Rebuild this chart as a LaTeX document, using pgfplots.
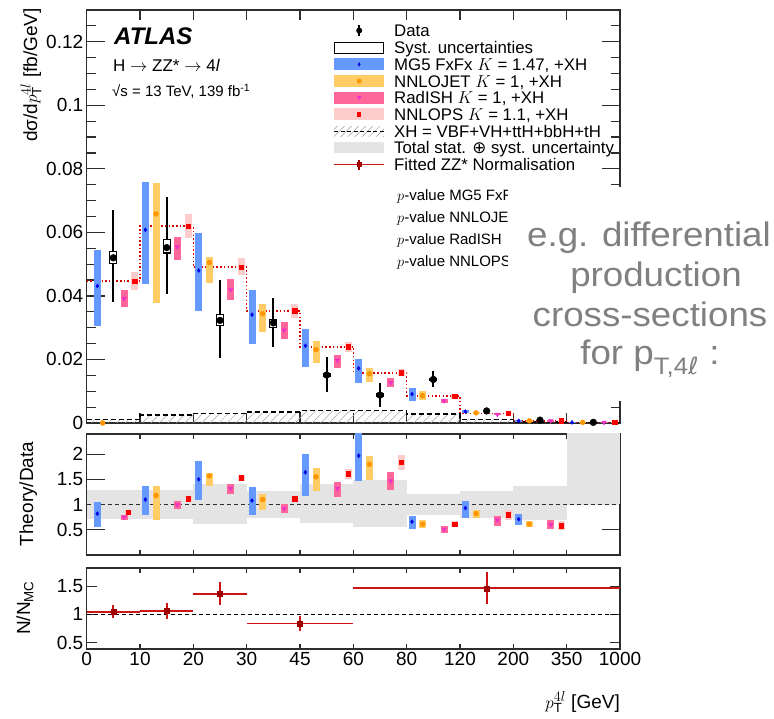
\documentclass[border=0pt]{standalone}
\usepackage{pgfplots}
\usepackage{pgfplotstable}
\pgfplotsset{compat=1.18}
\usetikzlibrary{patterns,patterns.meta}
\usepackage{fontspec}
\setmainfont{Liberation Sans}
\newfontfamily\dejavu{DejaVu Sans}
\definecolor{mgband}{RGB}{102,153,255}
\definecolor{mgmark}{RGB}{0,0,230}
\definecolor{njband}{RGB}{255,204,102}
\definecolor{njmark}{RGB}{255,150,0}
\definecolor{rdband}{RGB}{255,102,153}
\definecolor{rdmark}{RGB}{240,50,200}
\definecolor{nlband}{RGB}{255,204,204}
\definecolor{nlmark}{RGB}{255,0,0}
\definecolor{fitline}{RGB}{204,20,20}
\definecolor{fitmark}{RGB}{160,0,0}
\definecolor{bandgrey}{RGB}{228,228,228}
\definecolor{axcol}{RGB}{45,45,45}
\definecolor{txtgrey}{RGB}{128,128,128}

\pgfplotstableread{
x y ep em
0.2 0.0431 0.0112 0.0126
1.1 0.0608 0.0150 0.0169
2.1 0.0480 0.0118 0.0128
3.1 0.0341 0.0077 0.0091
4.1 0.0243 0.0054 0.0066
5.1 0.0172 0.0031 0.0045
6.1 0.0091 0.0018 0.0021
7.1 0.0036 0.0006 0.0006
8.1 0.0007 0.0002 0.0002
9.1 0.0002 0.0001 0.0001
}\mgmain
\pgfplotstableread{
x y ep em
0.3 0.0000 0.0000 0.0000
1.3 0.0658 0.0098 0.0279
2.3 0.0505 0.0017 0.0064
3.3 0.0344 0.0030 0.0059
4.3 0.0231 0.0026 0.0042
5.3 0.0155 0.0017 0.0025
6.3 0.0086 0.0015 0.0014
7.3 0.0032 0.0004 0.0004
8.3 0.0007 0.0001 0.0001
9.3 0.0002 0.0001 0.0001
}\njmain
\pgfplotstableread{
x y ep em
0.7 0.0392 0.0026 0.0027
1.7 0.0554 0.0031 0.0042
2.7 0.0420 0.0034 0.0034
3.7 0.0292 0.0026 0.0028
4.7 0.0198 0.0015 0.0026
5.7 0.0127 0.0016 0.0015
6.7 0.0070 0.0004 0.0006
7.7 0.0027 0.0003 0.0003
8.7 0.0007 0.0001 0.0001
9.7 0.0002 0.0001 0.0001
}\rdmain
\pgfplotstableread{
x y ep em
0.9 0.0447 0.0028 0.0029
1.9 0.0620 0.0038 0.0037
2.9 0.0491 0.0029 0.0026
3.9 0.0353 0.0021 0.0021
4.9 0.0240 0.0015 0.0016
5.9 0.0158 0.0011 0.0010
6.9 0.0085 0.0005 0.0005
7.9 0.0030 0.0003 0.0003
8.9 0.0007 0.0002 0.0002
9.9 0.0002 0.0001 0.0001
}\nlmain
\pgfplotstableread{
x y ep em
0.5 0.0520 0.0149 0.0139
1.5 0.0552 0.0159 0.0147
2.5 0.0323 0.0128 0.0117
3.5 0.0315 0.0078 0.0075
4.5 0.0151 0.0057 0.0053
5.5 0.0088 0.0039 0.0037
6.5 0.0137 0.0027 0.0023
7.5 0.0038 0.0006 0.0006
8.5 0.0009 0.0002 0.0002
9.5 0.0002 0.0001 0.0001
}\datamain
\pgfplotstableread{
x y ep em
0.2 0.82 0.23 0.26
1.1 1.10 0.26 0.31
2.1 1.50 0.36 0.40
3.1 1.08 0.26 0.29
4.1 1.64 0.37 0.46
5.1 1.97 0.50 0.51
6.1 0.66 0.12 0.15
7.1 0.93 0.15 0.19
8.1 0.71 0.11 0.12
}\mgratio
\pgfplotstableread{
x y ep em
1.3 1.18 0.18 0.49
2.3 1.57 0.05 0.20
3.3 1.10 0.10 0.20
4.3 1.55 0.18 0.28
5.3 1.80 0.17 0.31
6.3 0.61 0.08 0.08
7.3 0.82 0.08 0.08
8.3 0.61 0.06 0.06
}\njratio
\pgfplotstableread{
x y ep em
0.7 0.75 0.04 0.05
1.7 1.00 0.07 0.08
2.7 1.32 0.09 0.12
3.7 0.92 0.10 0.09
4.7 1.32 0.13 0.17
5.7 1.47 0.17 0.19
6.7 0.51 0.06 0.08
7.7 0.69 0.09 0.12
8.7 0.60 0.09 0.09
}\rdratio
\pgfplotstableread{
x y ep em
0.78 0.85 0.05 0.05
1.9 1.12 0.04 0.05
2.9 1.53 0.05 0.06
3.9 1.12 0.04 0.05
4.9 1.61 0.09 0.11
5.9 1.84 0.15 0.16
6.9 0.61 0.06 0.05
7.9 0.80 0.09 0.10
8.9 0.58 0.09 0.09
}\nlratio
% total stat+syst band: bin centre, lower edge, upper edge
\pgfplotstableread{
x lo hi
0.5 0.72 1.28
1.5 0.72 1.28
2.5 0.62 1.40
3.5 0.74 1.27
4.5 0.64 1.40
5.5 0.56 1.49
6.5 0.80 1.20
7.5 0.74 1.26
8.5 0.69 1.37
9.5 0.99 2.60
}\bandtab
\pgfplotstableread{
x y xp xm yp ym
0.5 1.05 0.5 0.5 0.12 0.12
1.5 1.06 0.5 0.5 0.14 0.14
2.5 1.36 0.5 0.5 0.21 0.20
4.0 0.84 1.0 1.0 0.14 0.14
7.5 1.46 2.5 2.5 0.29 0.27
}\fittab

\pgfplotsset{
  panel/.style={scale only axis, width=533.3pt, xmin=0, xmax=10, xtick={0,1,2,3,4,5,6,7,8,9,10},
    axis line style={line width=1.2pt, axcol}, tick style={line width=1.2pt, axcol},
    tick align=inside, tick label style={font=\fontsize{19}{21}\selectfont},
    anchor=south west},
  bars/.style={draw=none, mark=none, forget plot, error bars/.cd, y dir=both, y explicit,
    error mark=none, error bar style={draw=#1, line width=7pt}},
}

\begin{document}
\begin{tikzpicture}

% ---------------- main panel ----------------
\begin{axis}[panel, at={(86.7pt,295pt)}, height=413pt,
  ymin=0, ymax=0.13, ytick={0,0.02,0.04,0.06,0.08,0.1,0.12},
  yticklabels={0,0.02,0.04,0.06,0.08,0.1,0.12},
  minor ytick={0.005,0.01,0.015,0.025,0.03,0.035,0.045,0.05,0.055,0.065,0.07,0.075,0.085,0.09,0.095,0.105,0.11,0.115,0.125},
  xticklabel=\empty,
  major tick length=18pt, minor tick length=9pt,
  every x tick/.append style={/pgfplots/major tick length=10pt},
  legend cell align=left,
  legend style={at={(axis description cs:0.4624,0.9661)}, anchor=north west, draw=none, fill=none,
    inner sep=0pt, outer sep=0pt, column sep=0pt, row sep=4.7pt,
    font=\fontsize{16.8}{19}\selectfont,
    nodes={inner sep=0pt, text height=12pt, text depth=0pt}},
]
\addplot[const plot, draw=none, pattern={Lines[angle=45,distance=6pt,line width=0.5pt]}, pattern color=gray!70, forget plot]
  coordinates {(0,0.0012)(1,0.0025)(2,0.0030)(3,0.0035)(4,0.0039)(5,0.0039)(6,0.0028)(7,0.0012)(8,0.0003)(9,0.0001)(10,0.0001)} \closedcycle;
\addplot[const plot, black, line width=1.3pt, dash pattern=on 5pt off 3pt, forget plot]
  coordinates {(0,0.0012)(1,0.0025)(2,0.0030)(3,0.0035)(4,0.0039)(5,0.0039)(6,0.0028)(7,0.0012)(8,0.0003)(9,0.0001)(10,0.0001)};
\addplot[const plot, nlmark!85!black, line width=1.5pt, dash pattern=on 1.5pt off 2.2pt, forget plot]
  coordinates {(0,0.0447)(1,0.0620)(2,0.0491)(3,0.0353)(4,0.0240)(5,0.0158)(6,0.0085)(7,0.0030)(8,0.0007)(9,0.0002)(10,0.0002)};

\addplot[bars=mgband] table[x=x,y=y,y error plus=ep,y error minus=em]{\mgmain};
\addplot[bars=njband] table[x=x,y=y,y error plus=ep,y error minus=em]{\njmain};
\addplot[bars=rdband] table[x=x,y=y,y error plus=ep,y error minus=em]{\rdmain};
\addplot[bars=nlband] table[x=x,y=y,y error plus=ep,y error minus=em]{\nlmain};
\addplot[only marks, mark=diamond*, mark size=2pt, mgmark, forget plot] table[x=x,y=y]{\mgmain};
\addplot[only marks, mark=*, mark size=2.5pt, njmark, forget plot] table[x=x,y=y]{\njmain};
\addplot[only marks, mark=triangle*, mark size=2.6pt, mark options={rotate=180}, rdmark, forget plot] table[x=x,y=y]{\rdmain};
\addplot[only marks, mark=square*, mark size=2.2pt, nlmark, forget plot] table[x=x,y=y]{\nlmain};

% data
\addplot[draw=none, mark=none, forget plot, error bars/.cd, y dir=both, y explicit, error mark=none,
  error bar style={draw=black, line width=2.2pt}] table[x=x,y=y,y error plus=ep,y error minus=em]{\datamain};
\addplot[fill=white, draw=black, line width=1.1pt, forget plot] coordinates {(0.435,0.0501)(0.565,0.0501)(0.565,0.0541)(0.435,0.0541)} -- cycle;
\addplot[fill=white, draw=black, line width=1.1pt, forget plot] coordinates {(1.435,0.0535)(1.565,0.0535)(1.565,0.0577)(1.435,0.0577)} -- cycle;
\addplot[fill=white, draw=black, line width=1.1pt, forget plot] coordinates {(2.435,0.0308)(2.565,0.0308)(2.565,0.0342)(2.435,0.0342)} -- cycle;
\addplot[fill=white, draw=black, line width=1.1pt, forget plot] coordinates {(3.435,0.0302)(3.565,0.0302)(3.565,0.0326)(3.435,0.0326)} -- cycle;
\addplot[fill=white, draw=black, line width=1.1pt, forget plot] coordinates {(4.435,0.0145)(4.565,0.0145)(4.565,0.0157)(4.435,0.0157)} -- cycle;
\addplot[fill=white, draw=black, line width=1.1pt, forget plot] coordinates {(5.435,0.0083)(5.565,0.0083)(5.565,0.0093)(5.435,0.0093)} -- cycle;
\addplot[fill=white, draw=black, line width=1.1pt, forget plot] coordinates {(6.435,0.0133)(6.565,0.0133)(6.565,0.0141)(6.435,0.0141)} -- cycle;
\addplot[only marks, mark=*, mark size=3.4pt, black, forget plot] table[x=x,y=y]{\datamain};

% legend
\addlegendimage{legend image code/.code={\path[draw=none,fill=none] (0pt,-6pt) rectangle (60pt,6pt);
  \draw[black,line width=2pt] (25pt,-5.5pt)--(25pt,5.5pt); \fill[black,draw=none] (25pt,0pt) circle (3pt);}}
\addlegendentry{Data}
\addlegendimage{legend image code/.code={\path[draw=none,fill=none] (0pt,-6pt) rectangle (60pt,6pt);
  \draw[black,line width=1pt,fill=none] (0.5pt,-5.5pt) rectangle (49.5pt,5.5pt);}}
\addlegendentry{Syst. uncertainties}
\addlegendimage{legend image code/.code={\path[draw=none,fill=none] (0pt,-6pt) rectangle (60pt,6pt);
  \fill[mgband,draw=none] (0pt,-6pt) rectangle (50pt,6pt); \fill[mgmark,draw=none] (25pt,2.2pt)--(26.4pt,0pt)--(25pt,-2.2pt)--(23.6pt,0pt)--cycle;}}
\addlegendentry{MG5 FxFx $K$ = 1.47, +XH}
\addlegendimage{legend image code/.code={\path[draw=none,fill=none] (0pt,-6pt) rectangle (60pt,6pt);
  \fill[njband,draw=none] (0pt,-6pt) rectangle (50pt,6pt); \fill[njmark,draw=none] (25pt,0pt) circle (2.5pt);}}
\addlegendentry{NNLOJET $K$ = 1, +XH}
\addlegendimage{legend image code/.code={\path[draw=none,fill=none] (0pt,-6pt) rectangle (60pt,6pt);
  \fill[rdband,draw=none] (0pt,-6pt) rectangle (50pt,6pt); \fill[rdmark,draw=none] (22.5pt,2pt)--(27.5pt,2pt)--(25pt,-2.5pt)--cycle;}}
\addlegendentry{RadISH $K$ = 1, +XH}
\addlegendimage{legend image code/.code={\path[draw=none,fill=none] (0pt,-6pt) rectangle (60pt,6pt);
  \fill[nlband,draw=none] (0pt,-6pt) rectangle (50pt,6pt); \fill[nlmark,draw=none] (22.8pt,-2.2pt) rectangle (27.2pt,2.2pt);}}
\addlegendentry{NNLOPS $K$ = 1.1, +XH}
\addlegendimage{legend image code/.code={\path[draw=none,fill=none] (0pt,-6pt) rectangle (60pt,6pt);
  \fill[draw=none, pattern={Lines[angle=45,distance=5pt,line width=0.5pt]}, pattern color=gray!80] (0pt,-5pt) rectangle (50pt,5pt);
  \draw[black,line width=1.3pt,dash pattern=on 4pt off 2.5pt] (0pt,0pt)--(50pt,0pt);}}
\addlegendentry{XH = VBF+VH+ttH+bbH+tH}
\addlegendimage{legend image code/.code={\path[draw=none,fill=none] (0pt,-6pt) rectangle (60pt,6pt);
  \fill[bandgrey,draw=none] (0pt,-5.5pt) rectangle (50pt,5.5pt);}}
\addlegendentry{Total stat. {\dejavu ⊕} syst. uncertainty}
\addlegendimage{legend image code/.code={\path[draw=none,fill=none] (0pt,-6pt) rectangle (60pt,6pt);
  \draw[fitline,line width=1.8pt] (0pt,0pt)--(50pt,0pt); \draw[fitmark,line width=1.8pt] (25pt,-5pt)--(25pt,5pt);
  \fill[fitmark,draw=none] (22.5pt,-2.5pt) rectangle (27.5pt,2.5pt);}}
\addlegendentry{Fitted ZZ* Normalisation}
\end{axis}

% ---------------- ratio panel ----------------
\begin{axis}[panel, at={(86.7pt,163pt)}, height=121pt,
  ymin=0, ymax=2.4, ytick={0.5,1,1.5,2}, yticklabels={0.5,1,1.5,2},
  xticklabel=\empty, major tick length=18pt,
  every x tick/.append style={/pgfplots/major tick length=5pt}]
\addplot[draw=none, mark=none, forget plot, error bars/.cd, y dir=both, y explicit, error mark=none,
  error bar style={draw=bandgrey, line width=53.4pt}]
  table[x=x, y expr={(\thisrow{lo}+\thisrow{hi})/2}, y error expr={(\thisrow{hi}-\thisrow{lo})/2}]{\bandtab};
\addplot[axcol, line width=1pt, dash pattern=on 4pt off 3pt, forget plot] coordinates {(0,1)(10,1)};
\addplot[bars=mgband] table[x=x,y=y,y error plus=ep,y error minus=em]{\mgratio};
\addplot[bars=njband] table[x=x,y=y,y error plus=ep,y error minus=em]{\njratio};
\addplot[bars=rdband] table[x=x,y=y,y error plus=ep,y error minus=em]{\rdratio};
\addplot[bars=nlband] table[x=x,y=y,y error plus=ep,y error minus=em]{\nlratio};
\addplot[only marks, mark=diamond*, mark size=2pt, mgmark, forget plot] table[x=x,y=y]{\mgratio};
\addplot[only marks, mark=*, mark size=2.5pt, njmark, forget plot] table[x=x,y=y]{\njratio};
\addplot[only marks, mark=triangle*, mark size=2.6pt, mark options={rotate=180}, rdmark, forget plot] table[x=x,y=y]{\rdratio};
\addplot[only marks, mark=square*, mark size=2.2pt, nlmark, forget plot] table[x=x,y=y]{\nlratio};
\end{axis}

% ---------------- N/N_MC panel ----------------
\begin{axis}[panel, at={(86.7pt,69pt)}, height=81pt,
  ymin=0.39, ymax=1.82, ytick={0.5,1,1.5}, yticklabels={0.5,1,1.5},
  xticklabels={0,10,20,30,45,60,80,120,200,350,1000},
  major tick length=10pt,
  every x tick/.append style={/pgfplots/major tick length=5pt}]
\addplot[black, line width=1pt, dash pattern=on 4pt off 3pt, forget plot] coordinates {(0,1)(10,1)};
\addplot[draw=none, mark=none, forget plot, error bars/.cd, x dir=both, x explicit, y dir=both, y explicit, error mark=none,
  error bar style={draw=fitline, line width=1.8pt}] table[x=x,y=y,x error plus=xp,x error minus=xm,y error plus=yp,y error minus=ym]{\fittab};
\addplot[only marks, mark=square*, mark size=2.6pt, fitmark, forget plot] table[x=x,y=y]{\fittab};
\end{axis}

% ---------------- labels ----------------
\node[rotate=90, anchor=base east, inner sep=0pt, font=\fontsize{19}{21}\selectfont] at (37pt,710pt) {dσ/d$p_{\mathrm{T}}^{4l}$ [fb/GeV]};
\node[rotate=90, anchor=base, inner sep=0pt, font=\fontsize{19}{21}\selectfont] at (33pt,224pt) {Theory/Data};
\node[rotate=90, anchor=base, inner sep=0pt, font=\fontsize{19}{21}\selectfont] at (30pt,110pt) {N/N\textsubscript{MC}};
\node[anchor=base east, inner sep=0pt, font=\fontsize{19}{21}\selectfont] at (620pt,10pt) {$p_{\mathrm{T}}^{4l}$ [GeV]};

\node[anchor=base west, inner sep=0pt, font=\fontsize{24}{26}\selectfont\bfseries\itshape] at (114pt,673pt) {ATLAS};
\node[anchor=base west, inner sep=0pt, font=\fontsize{17}{19}\selectfont] at (113pt,646pt) {H $\rightarrow$ ZZ* $\rightarrow$ 4\textit{l}};
\node[anchor=base west, inner sep=0pt, font=\fontsize{15}{17}\selectfont] at (112pt,621pt) {√s = 13 TeV, 139 fb\textsuperscript{-1}};

\node[anchor=base west, inner sep=0pt, font=\fontsize{15}{17}\selectfont] at (397pt,517pt) {$p$-value MG5 FxFx};
\node[anchor=base west, inner sep=0pt, font=\fontsize{15}{17}\selectfont] at (397pt,495pt) {$p$-value NNLOJET};
\node[anchor=base west, inner sep=0pt, font=\fontsize{15}{17}\selectfont] at (397pt,473pt) {$p$-value RadISH};
\node[anchor=base west, inner sep=0pt, font=\fontsize{15}{17}\selectfont] at (397pt,451pt) {$p$-value NNLOPS};

\fill[white] (508pt,317pt) rectangle (790pt,531pt);
\node[anchor=base, inner sep=0pt, xscale=1.08, text=txtgrey, font=\fontsize{34}{40}\selectfont] at (649pt,471.3pt) {e.g. differential};
\node[anchor=base, inner sep=0pt, xscale=1.08, text=txtgrey, font=\fontsize{34}{40}\selectfont] at (656pt,431.3pt) {production};
\node[anchor=base, inner sep=0pt, xscale=1.08, text=txtgrey, font=\fontsize{34}{40}\selectfont] at (650pt,391.3pt) {cross-sections};
\node[anchor=base, inner sep=0pt, xscale=1.08, text=txtgrey, font=\fontsize{34}{40}\selectfont] at (650pt,353pt) {for p\textsubscript{T,4{\dejavu ℓ}} :};

\pgfresetboundingbox
\path[use as bounding box] (0pt,0pt) rectangle (774pt,718pt);
\end{tikzpicture}
\end{document}
